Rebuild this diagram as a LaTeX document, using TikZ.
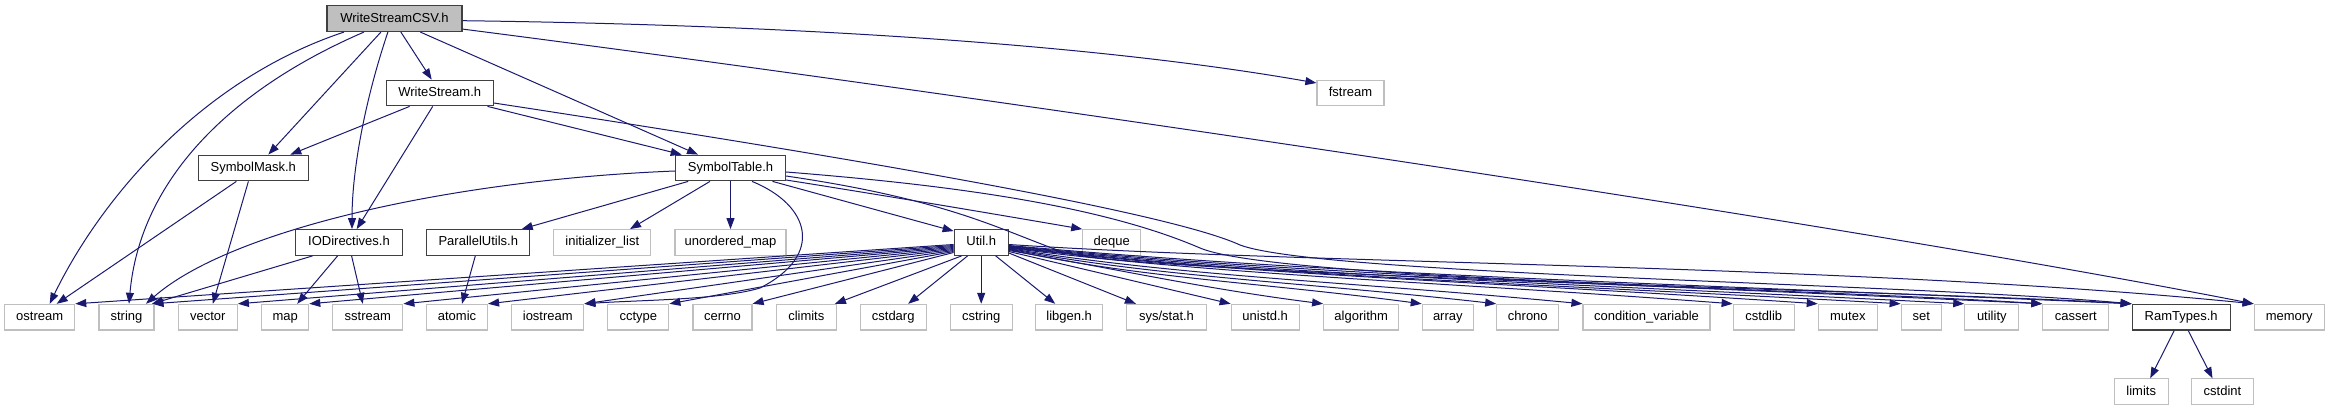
\documentclass[tikz,border=0pt]{standalone}
\usepackage{fontspec}
\setmainfont{Liberation Sans}
\usetikzlibrary{arrows.meta}
\definecolor{edgecol}{HTML}{191970}
\definecolor{projborder}{HTML}{404040}
\definecolor{sysborder}{HTML}{BFBFBF}
\definecolor{rootfill}{HTML}{BFBFBF}
\tikzset{
  proj/.style={draw=projborder, line width=1.2pt, fill=white, minimum height=25.6pt,
    inner sep=0pt, text height=9.5pt, text depth=2.7pt, font=\fontsize{13}{15}\selectfont},
  sys/.style={proj, draw=sysborder},
  rootn/.style={proj, fill=rootfill},
  dep/.style={draw=edgecol, line width=1pt, -{Triangle[length=11pt,width=8pt]}, fill=none},
}
\begin{document}
\begin{tikzpicture}[x=1pt,y=-1pt]
\useasboundingbox (0,0) rectangle (2329,411);
% ---------- nodes ----------
\node[rootn, minimum width=135pt] (root) at (394.5,18.7) {WriteStreamCSV.h};
\node[proj, minimum width=107pt] (ws) at (439.7,93) {WriteStream.h};
\node[sys, minimum width=67pt] (fstream) at (1350.5,93) {fstream};
\node[proj, minimum width=110pt] (smask) at (253.3,168) {SymbolMask.h};
\node[proj, minimum width=110pt] (stab) at (730.5,168) {SymbolTable.h};
\node[proj, minimum width=107pt] (iod) at (349,242.5) {IODirectives.h};
\node[proj, minimum width=103pt] (pu) at (478.3,242.5) {ParallelUtils.h};
\node[sys, minimum width=97pt] (initl) at (602.3,242.5) {initializer\_list};
\node[sys, minimum width=111pt] (umap) at (730.5,242.5) {unordered\_map};
\node[proj, minimum width=54pt] (util) at (981.2,242.5) {Util.h};
\node[sys, minimum width=58pt] (deque) at (1111.8,242.5) {deque};
% bottom row
\node[sys, minimum width=70pt] (ostream) at (39.7,317.2) {ostream};
\node[sys, minimum width=55pt] (string) at (126.5,317.2) {string};
\node[sys, minimum width=59pt] (vector) at (207.8,317.2) {vector};
\node[sys, minimum width=47pt] (map) at (285.2,317.2) {map};
\node[sys, minimum width=70pt] (sstream) at (367.8,317.2) {sstream};
\node[sys, minimum width=61pt] (atomic) at (457,317.2) {atomic};
\node[sys, minimum width=72pt] (iostream) at (547.8,317.2) {iostream};
\node[sys, minimum width=61pt] (cctype) at (638.3,317.2) {cctype};
\node[sys, minimum width=59pt] (cerrno) at (722.5,317.2) {cerrno};
\node[sys, minimum width=60pt] (climits) at (806.3,317.2) {climits};
\node[sys, minimum width=66pt] (cstdarg) at (893.2,317.2) {cstdarg};
\node[sys, minimum width=62pt] (cstring) at (981.2,317.2) {cstring};
\node[sys, minimum width=67pt] (libgen) at (1069.2,317.2) {libgen.h};
\node[sys, minimum width=80pt] (sysstat) at (1166.5,317.2) {sys/stat.h};
\node[sys, minimum width=68pt] (unistd) at (1265.2,317.2) {unistd.h};
\node[sys, minimum width=75pt] (algorithm) at (1361.2,317.2) {algorithm};
\node[sys, minimum width=51pt] (array) at (1447.8,317.2) {array};
\node[sys, minimum width=62pt] (chrono) at (1527.8,317.2) {chrono};
\node[sys, minimum width=127pt] (condvar) at (1646.5,317.2) {condition\_variable};
\node[sys, minimum width=61pt] (cstdlib) at (1763.7,317.2) {cstdlib};
\node[sys, minimum width=59pt] (mutex) at (1847.8,317.2) {mutex};
\node[sys, minimum width=40pt] (set) at (1921.2,317.2) {set};
\node[sys, minimum width=54pt] (utility) at (1991.8,317.2) {utility};
\node[sys, minimum width=66pt] (cassert) at (2075.8,317.2) {cassert};
\node[proj, minimum width=98pt] (ramtypes) at (2181.2,317.2) {RamTypes.h};
\node[sys, minimum width=70pt] (memory) at (2289.2,317.2) {memory};
\node[sys, minimum width=54pt] (limits) at (2141.2,391.7) {limits};
\node[sys, minimum width=62pt] (cstdint) at (2222.5,391.7) {cstdint};
% ---------- edges from WriteStreamCSV.h ----------
\draw[dep] ([xshift=17.5pt]root.south west) .. controls (200,80) and (100,200) .. ([xshift=10pt]ostream.north);
\draw[dep] ([xshift=37.5pt]root.south west) .. controls (230,90) and (140,180) .. ([xshift=2.5pt]string.north);
\draw[dep] ([xshift=54.5pt]root.south west) -- ([xshift=15pt]smask.north);
\draw[dep] ([xshift=61.5pt]root.south west) .. controls (365,100) and (352,170) .. ([xshift=3pt]iod.north);
\draw[dep] ([xshift=74.5pt]root.south west) -- ([xshift=-8pt]ws.north);
\draw[dep] ([xshift=94pt]root.south west) -- ([xshift=-32.5pt]stab.north);
\draw[dep] ([yshift=-2pt]root.east) .. controls (800,25) and (1100,45) .. ([yshift=10pt]fstream.west);
\draw[dep] ([yshift=3pt]root.south east) .. controls (900,85) and (1800,215) .. (memory.north west);
% ---------- edges from WriteStream.h ----------
\draw[dep] ([xshift=24pt]ws.south west) -- ([xshift=37pt]smask.north);
\draw[dep] ([xshift=-7pt]ws.south) -- ([xshift=7.7pt]iod.north);
\draw[dep] ([xshift=-6.3pt]ws.south east) -- ([xshift=-48.8pt]stab.north);
\draw[dep] ([yshift=-10pt]ws.east) .. controls (900,165) and (1175,215) .. (1240,245)
   .. controls (1320,275) and (1900,283) .. (ramtypes.north west);
% ---------- SymbolMask.h ----------
\draw[dep] ([xshift=38.7pt]smask.south west) -- ([xshift=17pt]ostream.north);
\draw[dep] ([xshift=50.7pt]smask.south west) -- ([xshift=5pt]vector.north);
% ---------- IODirectives.h ----------
\draw[dep] ([xshift=17.7pt]iod.south west) -- ([xshift=25.5pt]string.north);
\draw[dep] ([xshift=42.7pt]iod.south west) -- ([xshift=12pt]map.north);
\draw[dep] ([xshift=56.7pt]iod.south west) -- ([xshift=-5pt]sstream.north);
% ---------- ParallelUtils.h ----------
\draw[dep] ([xshift=-3pt]pu.south) -- ([xshift=5pt]atomic.north);
% ---------- SymbolTable.h ----------
\draw[dep] ([yshift=-3pt]stab.west) .. controls (450,180) and (230,230) .. ([xshift=19.5pt]string.north);
\draw[dep] ([xshift=13.3pt]stab.south west) -- ([xshift=43.4pt]pu.north);
\draw[dep] ([xshift=-20.5pt]stab.south) -- ([xshift=27.7pt]initl.north);
\draw[dep] (stab.south) -- (umap.north);
\draw[dep] ([xshift=21.5pt]stab.south) .. controls (810,205) and (825,255) .. (760,288)
   .. controls (720,300) and (640,300) .. (iostream.north east);
\draw[dep] ([xshift=-13.6pt]stab.south east) -- ([yshift=-2pt]util.north west);
\draw[dep] ([yshift=-12pt]stab.east) .. controls (900,198) and (1000,215) .. (deque.north west);
\draw[dep] ([yshift=-4pt]stab.east) .. controls (950,185) and (1100,205) .. (1200,248)
   .. controls (1280,282) and (1900,290) .. (ramtypes.north west);
\draw[dep] ([yshift=-8pt]stab.east) .. controls (950,200) and (1000,230) .. (1063,252)
   .. controls (1120,272) and (1800,288) .. (cassert.north west);
% ---------- Util.h, left fan ----------
\draw[dep] ([yshift=-2pt]util.west) -- (ostream.north east);
\draw[dep] ([yshift=-3pt]util.west) -- ([xshift=-2pt]string.north east);
\draw[dep] ([yshift=-4pt]util.west) -- (vector.north east);
\draw[dep] ([yshift=-5pt]util.west) -- (map.north east);
\draw[dep] ([yshift=-6pt]util.west) -- (sstream.north east);
\draw[dep] ([yshift=-7pt]util.west) -- (atomic.north east);
\draw[dep] ([yshift=-8pt]util.west) -- (iostream.north east);
\draw[dep] ([yshift=-9pt]util.west) -- (cctype.north east);
\draw[dep] ([yshift=-10pt]util.west) -- (cerrno.north east);
\draw[dep] ([xshift=8pt]util.south west) -- ([xshift=-2pt]climits.north east);
\draw[dep] ([xshift=14pt]util.south west) -- ([xshift=15pt]cstdarg.north);
% ---------- Util.h, downwards ----------
\draw[dep] (util.south) -- (cstring.north);
\draw[dep] ([xshift=14.5pt]util.south) -- ([xshift=-14pt]libgen.north);
% ---------- Util.h, right fan ----------
\draw[dep] ([yshift=-10.5pt]util.east) -- ([xshift=10pt]sysstat.north west);
\draw[dep] ([yshift=-9pt]util.east) -- (unistd.north west);
\draw[dep] ([yshift=-8pt]util.east) .. controls +(90,15) and +(-120,-15) .. (algorithm.north west);
\draw[dep] ([yshift=-7pt]util.east) .. controls +(124,28) and +(-166,-22) .. (array.north west);
\draw[dep] ([yshift=-6.5pt]util.east) .. controls +(147,28) and +(-196,-22) .. (chrono.north west);
\draw[dep] ([yshift=-6pt]util.east) .. controls +(172,28) and +(-230,-22) .. (condvar.north west);
\draw[dep] ([yshift=-5.5pt]util.east) .. controls +(218,28) and +(-290,-22) .. (cstdlib.north west);
\draw[dep] ([yshift=-5pt]util.east) .. controls +(243,28) and +(-324,-22) .. (mutex.north west);
\draw[dep] ([yshift=-4.5pt]util.east) .. controls +(268,30) and +(-357,-20) .. (set.north west);
\draw[dep] ([yshift=-4pt]util.east) .. controls +(287,30) and +(-383,-20) .. (utility.north west);
\draw[dep] ([yshift=-3.5pt]util.east) .. controls +(310,30) and +(-414,-20) .. (cassert.north west);
\draw[dep] ([yshift=-3pt]util.east) .. controls +(337,30) and +(-450,-20) .. (ramtypes.north west);
\draw[dep] ([yshift=-2pt]util.east) .. controls +(300,20) and +(-400,-40) .. (memory.north west);
% ---------- RamTypes.h ----------
\draw[dep] ([xshift=-7pt]ramtypes.south) -- ([xshift=9pt]limits.north);
\draw[dep] ([xshift=7pt]ramtypes.south) -- ([xshift=-10pt]cstdint.north);
\end{tikzpicture}
\end{document}
